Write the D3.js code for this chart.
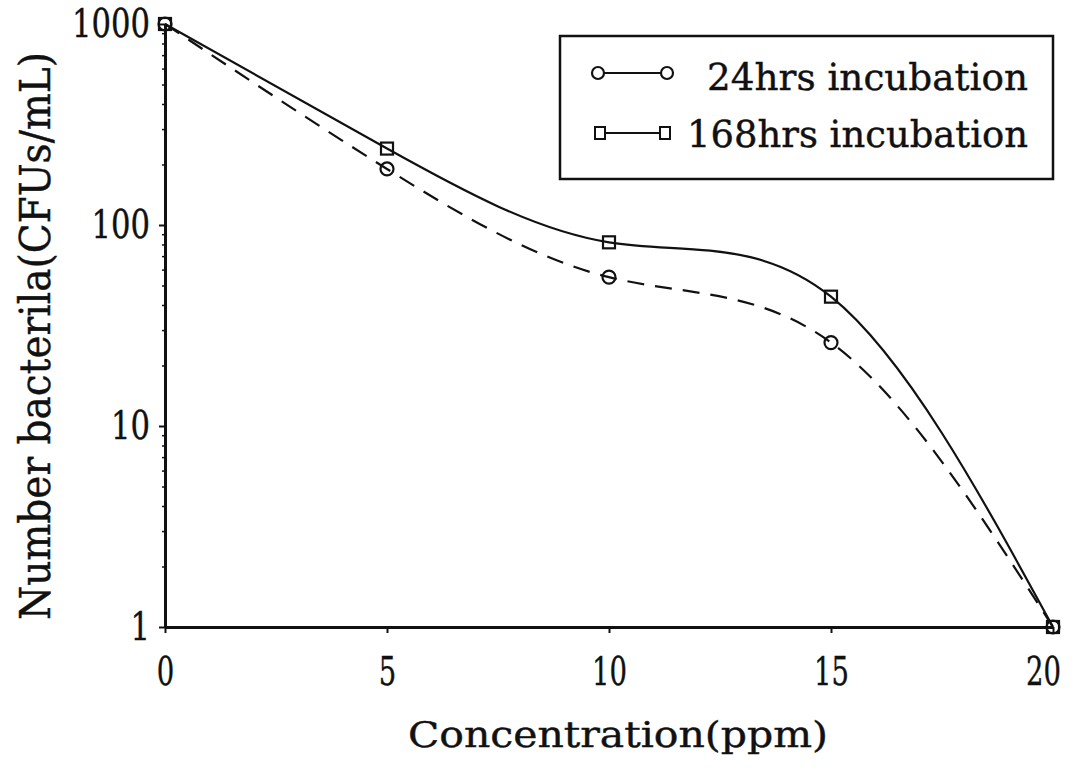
<!DOCTYPE html>
<html>
<head>
<meta charset="utf-8">
<script src="https://cdn.jsdelivr.net/npm/d3@7"></script>
<style>
  html, body { margin: 0; padding: 0; background: #fff; }
  svg { display: block; }
  text { font-family: "DejaVu Serif", "Liberation Serif", serif; fill: #111; stroke: #111; stroke-width: 0.4; }
</style>
</head>
<body>
<svg id="chart" width="1075" height="770"></svg>
<script>
// ---- data ----
const concentrations = [0, 5, 10, 15, 20];
const hrs24 = [1000, 190, 55, 26, 1];
const hrs168 = [1000, 240, 82, 44, 1];
const xTickValues = [0, 5, 10, 15, 20];
const yTickValues = [1, 10, 100, 1000];
const seriesNames = ["24hrs incubation", "168hrs incubation"];
const xTitle = "Concentration(ppm)";
const yTitle = "Number bacterila(CFUs/mL)";

const svg = d3.select("#chart");
const ink = "#111";

const x = d3.scaleLinear().domain([0, 20]).range([165, 1053]);
const y = d3.scaleLog().domain([1, 1000]).range([627, 24]);

// minor ticks for log axis
const minorTicks = [];
[1, 10, 100].forEach(d => { for (let k = 2; k <= 9; k++) minorTicks.push(d * k); });

// ---- y axis ----
const gy = svg.append("g").attr("transform", `translate(${x(0)},0)`);
gy.call(d3.axisLeft(y).tickValues(yTickValues).tickSize(6).tickSizeOuter(0)
  .tickPadding(9).tickFormat(d3.format("d")));
gy.select(".domain").attr("stroke", ink).attr("stroke-width", 3);
gy.selectAll(".tick line").attr("stroke", ink).attr("stroke-width", 2);
gy.selectAll(".tick text")
  .attr("font-size", 40)
  .attr("font-family", "DejaVu Serif")
  .attr("fill", ink)
  .attr("textLength", d => String(d).length * 19.5)
  .attr("lengthAdjust", "spacingAndGlyphs");

const gyMinor = svg.append("g").attr("transform", `translate(${x(0) + 2},0)`);
gyMinor.call(d3.axisLeft(y).tickValues(minorTicks).tickSize(5).tickSizeOuter(0).tickFormat(""));
gyMinor.select(".domain").remove();
gyMinor.selectAll(".tick line").attr("stroke", ink).attr("stroke-width", 1.5);

// ---- x axis ----
const gx = svg.append("g").attr("transform", `translate(0,${y(1)})`);
gx.call(d3.axisBottom(x).tickValues(xTickValues).tickSize(6).tickSizeOuter(0)
  .tickFormat(d3.format("d")));
gx.select(".domain").attr("stroke", ink).attr("stroke-width", 3);
gx.selectAll(".tick line").attr("stroke", ink).attr("stroke-width", 2);
gx.selectAll(".tick text")
  .attr("font-size", 40)
  .attr("font-family", "Liberation Serif")
  .attr("fill", ink)
  .attr("y", 58)
  .attr("dy", null)
  .attr("dx", d => d === 20 ? -10 : 0)
  .attr("textLength", d => String(d).length * 17.5)
  .attr("lengthAdjust", "spacingAndGlyphs");

// ---- curves ----
const lineGen = d3.line()
  .x((d, i) => x(concentrations[i]))
  .y(d => y(d))
  .curve(d3.curveNatural);

svg.append("path").datum(hrs24)
  .attr("d", lineGen)
  .attr("fill", "none").attr("stroke", ink).attr("stroke-width", 2.2)
  .attr("stroke-dasharray", "17,11");

svg.append("path").datum(hrs168)
  .attr("d", lineGen)
  .attr("fill", "none").attr("stroke", ink).attr("stroke-width", 2.2);

// markers
svg.append("g").selectAll("circle").data(hrs24).join("circle")
  .attr("cx", (d, i) => x(concentrations[i]))
  .attr("cy", d => y(d))
  .attr("r", 6.5)
  .attr("fill", "none").attr("stroke", ink).attr("stroke-width", 2.2);

const sq = 12;
svg.append("g").selectAll("rect").data(hrs168).join("rect")
  .attr("x", (d, i) => x(concentrations[i]) - sq / 2)
  .attr("y", d => y(d) - sq / 2)
  .attr("width", sq).attr("height", sq)
  .attr("fill", "none").attr("stroke", ink).attr("stroke-width", 2.2);

// ---- axis titles ----
svg.append("text")
  .attr("x", 408).attr("y", 747)
  .attr("font-size", 35)
  .attr("textLength", 420).attr("lengthAdjust", "spacingAndGlyphs")
  .text(xTitle);

svg.append("text")
  .attr("transform", "translate(50,620) rotate(-90)")
  .attr("x", 0).attr("y", 0)
  .attr("font-size", 42)
  .attr("textLength", 568).attr("lengthAdjust", "spacingAndGlyphs")
  .text(yTitle);

// ---- legend ----
const lg = svg.append("g");
lg.append("rect")
  .attr("x", 560).attr("y", 36).attr("width", 493).attr("height", 143)
  .attr("fill", "none").attr("stroke", ink).attr("stroke-width", 2.5);

// 24hrs
lg.append("line").attr("x1", 598).attr("x2", 667).attr("y1", 73).attr("y2", 73)
  .attr("stroke", ink).attr("stroke-width", 2.2);
[598, 667].forEach(cx => lg.append("circle").attr("cx", cx).attr("cy", 73).attr("r", 6)
  .attr("fill", "#fff").attr("stroke", ink).attr("stroke-width", 2.2));
lg.append("text").attr("x", 707).attr("y", 90).attr("font-size", 37)
  .attr("textLength", 321).attr("lengthAdjust", "spacingAndGlyphs")
  .text(seriesNames[0]);

// 168hrs
lg.append("line").attr("x1", 600).attr("x2", 665).attr("y1", 133).attr("y2", 133)
  .attr("stroke", ink).attr("stroke-width", 2.2);
[600, 665].forEach(cx => lg.append("rect").attr("x", cx - 5).attr("y", 127).attr("width", 10).attr("height", 12)
  .attr("fill", "#fff").attr("stroke", ink).attr("stroke-width", 2));
lg.append("text").attr("x", 687).attr("y", 147).attr("font-size", 37)
  .attr("textLength", 341).attr("lengthAdjust", "spacingAndGlyphs")
  .text(seriesNames[1]);
</script>
</body>
</html>
